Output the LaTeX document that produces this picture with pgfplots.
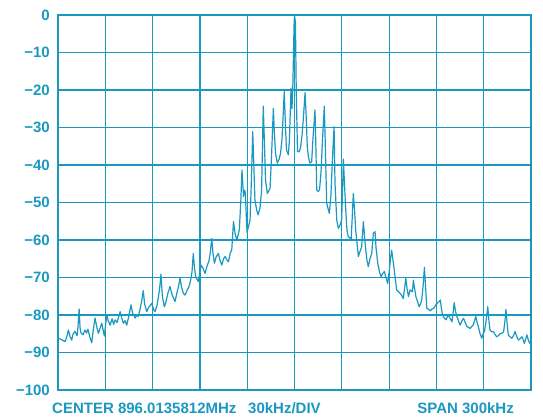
\documentclass[border=0pt]{standalone}
\usepackage{pgfplots}
\pgfplotsset{compat=1.18}
\usepackage{fontspec}
\setmainfont{Liberation Sans}
\definecolor{teal1}{RGB}{26,152,192}
\pgfplotstableread{
x y
-150.0 -86.2
-148.1 -86.5
-145.5 -87.1
-144.2 -85.5
-143.4 -84.0
-142.3 -85.8
-141.3 -86.7
-140.4 -85.0
-139.2 -84.4
-137.9 -85.5
-137.3 -83.0
-136.6 -78.4
-136.0 -83.5
-135.4 -84.8
-134.1 -85.3
-132.9 -84.0
-131.9 -84.8
-131.0 -83.8
-129.7 -86.0
-128.6 -87.4
-127.8 -84.5
-126.5 -80.8
-125.5 -83.0
-124.4 -84.9
-123.3 -83.5
-122.2 -82.2
-121.4 -84.0
-120.6 -85.6
-119.8 -82.5
-119.0 -80.0
-118.2 -81.5
-116.9 -82.7
-115.7 -81.0
-114.7 -82.5
-113.8 -81.3
-112.5 -82.0
-111.5 -80.5
-110.6 -79.1
-109.6 -80.8
-108.5 -82.2
-107.5 -81.5
-106.4 -82.7
-105.2 -80.5
-103.7 -77.3
-102.7 -79.5
-101.1 -80.8
-99.9 -80.0
-99.1 -80.4
-98.0 -78.5
-97.0 -76.5
-95.9 -73.5
-95.1 -77.0
-93.7 -79.1
-92.6 -78.0
-91.6 -77.5
-90.5 -76.9
-89.4 -78.5
-88.5 -79.1
-87.2 -77.5
-85.9 -74.0
-85.3 -72.0
-84.7 -69.1
-83.8 -75.0
-82.6 -77.8
-81.5 -76.5
-80.2 -74.0
-78.9 -72.4
-77.7 -74.5
-76.7 -75.5
-75.8 -76.4
-74.5 -74.0
-73.2 -71.6
-72.6 -70.2
-71.7 -72.5
-70.5 -74.2
-69.4 -74.7
-68.2 -73.5
-66.9 -72.4
-66.0 -71.0
-65.0 -68.5
-64.2 -63.6
-63.4 -67.5
-62.7 -69.8
-61.8 -70.5
-61.0 -71.1
-59.9 -68.5
-59.3 -66.7
-58.0 -67.5
-56.8 -68.9
-55.5 -67.0
-54.2 -65.5
-53.3 -63.0
-52.5 -59.6
-51.7 -63.5
-50.8 -66.2
-49.7 -64.5
-48.3 -63.6
-47.2 -65.5
-46.1 -66.7
-45.0 -65.0
-44.0 -64.4
-43.1 -65.2
-41.9 -65.8
-40.8 -63.5
-39.8 -62.7
-38.7 -55.1
-37.6 -58.5
-36.5 -60.0
-35.7 -58.5
-35.0 -57.3
-34.1 -50.0
-33.3 -41.3
-32.8 -45.0
-32.3 -48.4
-31.7 -46.7
-31.2 -47.5
-30.1 -58.0
-29.2 -56.5
-28.2 -54.7
-27.4 -45.0
-26.5 -31.1
-25.8 -40.0
-25.1 -49.3
-24.0 -52.0
-23.1 -53.3
-21.9 -51.5
-20.9 -47.0
-20.3 -35.0
-19.8 -24.3
-19.0 -35.0
-18.4 -44.0
-17.2 -47.6
-16.2 -46.8
-15.5 -46.2
-14.6 -38.0
-13.4 -24.9
-12.7 -32.0
-12.0 -37.0
-10.9 -39.5
-9.8 -38.5
-8.9 -37.0
-7.9 -33.0
-6.5 -20.4
-5.7 -30.0
-5.1 -36.0
-3.9 -37.3
-3.2 -33.0
-2.2 -19.5
-1.6 -25.0
-1.0 -18.0
-0.3 -3.0
0.0 0.0
0.6 -2.0
1.1 -20.0
1.9 -36.4
2.9 -36.5
3.8 -35.5
4.8 -32.0
5.7 -27.0
6.7 -20.7
7.4 -27.0
8.1 -35.0
8.8 -37.8
9.8 -39.5
10.9 -39.1
11.7 -33.0
13.0 -25.3
13.6 -36.0
14.1 -46.7
15.1 -47.1
15.9 -46.5
16.8 -42.0
17.8 -33.0
18.9 -24.3
19.5 -34.0
20.4 -50.2
21.2 -51.5
22.1 -52.9
23.1 -48.0
24.1 -38.0
25.1 -29.8
25.7 -45.0
26.8 -54.7
27.8 -56.9
28.9 -56.0
29.9 -54.7
30.4 -48.0
31.0 -38.4
31.7 -45.0
32.5 -52.0
33.3 -57.5
34.1 -59.1
35.2 -59.5
35.9 -60.0
36.5 -55.0
37.3 -47.6
38.1 -52.0
38.8 -57.3
39.7 -61.0
40.5 -64.4
41.6 -63.0
42.6 -61.8
43.1 -58.5
43.7 -55.1
44.4 -59.0
45.2 -62.7
46.0 -65.5
46.8 -67.1
47.9 -65.0
49.0 -63.6
50.0 -58.2
51.1 -57.8
51.7 -62.0
52.8 -66.2
53.9 -68.5
54.9 -69.8
55.8 -69.0
57.0 -68.4
58.0 -70.0
59.1 -71.6
59.9 -69.0
60.9 -65.0
61.6 -62.7
62.5 -65.5
63.3 -68.0
64.1 -71.0
64.8 -73.3
66.0 -73.8
66.9 -74.2
68.0 -74.8
69.0 -75.6
69.8 -73.0
70.6 -70.2
71.4 -73.0
72.3 -75.1
73.3 -73.3
74.8 -73.8
75.4 -70.7
76.2 -73.0
77.0 -75.1
78.1 -76.5
79.0 -77.8
80.0 -77.0
80.7 -76.0
81.6 -72.0
82.4 -67.3
83.2 -73.0
83.9 -78.2
85.1 -78.5
86.2 -78.9
87.1 -78.4
88.3 -78.2
89.3 -77.5
90.4 -76.9
91.5 -76.5
92.5 -76.0
93.1 -78.0
93.9 -80.0
95.0 -80.8
96.1 -81.3
96.9 -80.5
97.7 -80.0
98.8 -81.0
99.9 -81.8
100.7 -79.0
101.3 -76.7
102.1 -79.0
103.0 -80.4
104.2 -81.8
105.1 -82.7
106.2 -81.5
107.2 -80.9
108.3 -82.0
109.3 -83.1
110.5 -83.3
111.4 -83.6
112.5 -83.0
113.4 -82.7
114.2 -81.5
115.0 -80.4
115.8 -82.0
116.6 -83.1
117.7 -85.0
118.8 -86.2
119.6 -85.0
120.5 -84.4
121.5 -81.5
122.6 -77.8
123.3 -81.5
124.0 -84.0
125.1 -84.5
126.1 -84.4
127.2 -85.2
128.2 -85.8
129.4 -85.5
130.3 -85.0
131.4 -84.9
132.6 -84.5
133.5 -81.5
134.1 -78.5
134.9 -82.5
135.6 -85.3
136.7 -85.8
137.8 -86.2
138.9 -85.5
139.9 -84.4
140.8 -85.5
142.0 -86.7
143.1 -86.3
144.2 -85.8
145.0 -86.5
145.8 -87.6
146.6 -86.5
147.4 -85.3
148.4 -86.8
149.5 -87.7
150.0 -87.5
}\spectrum
\begin{document}
\begin{tikzpicture}
\path[use as bounding box] (-58pt,-26pt) rectangle (485pt,390pt);
\begin{axis}[
  at={(0,0)}, anchor=south west,
  scale only axis, width=473pt, height=375pt,
  xmin=-150, xmax=150, ymin=-100, ymax=0,
  xtick={-150,-120,-90,-60,-30,0,30,60,90,120,150},
  xticklabels={},
  ytick={-100,-90,-80,-70,-60,-50,-40,-30,-20,-10,0},
  yticklabels={−100,−90,−80,−70,−60,−50,−40,−30,−20,−10,0},
  major tick length=0pt,
  grid=major,
  grid style={teal1, line width=1.2pt},
  axis line style={teal1, line width=2pt},
  yticklabel style={font=\fontsize{15}{17}\selectfont\bfseries, text=teal1, inner sep=0pt, xshift=-8pt},
]
\addplot[teal1, line width=1.2pt, line join=round, mark=none] table[x=x,y=y] {\spectrum};
\end{axis}
\begin{scope}[every node/.style={inner sep=0pt, text=teal1, font=\fontsize{15}{17}\selectfont\bfseries}]
\node[anchor=base west] at (-6pt,-23.3pt) {CENTER 896.0135812MHz};
\node[anchor=base west] at (190pt,-23.3pt) {30kHz/DIV};
\node[anchor=base east] at (456pt,-23.3pt) {SPAN 300kHz};
\end{scope}
\end{tikzpicture}
\end{document}
